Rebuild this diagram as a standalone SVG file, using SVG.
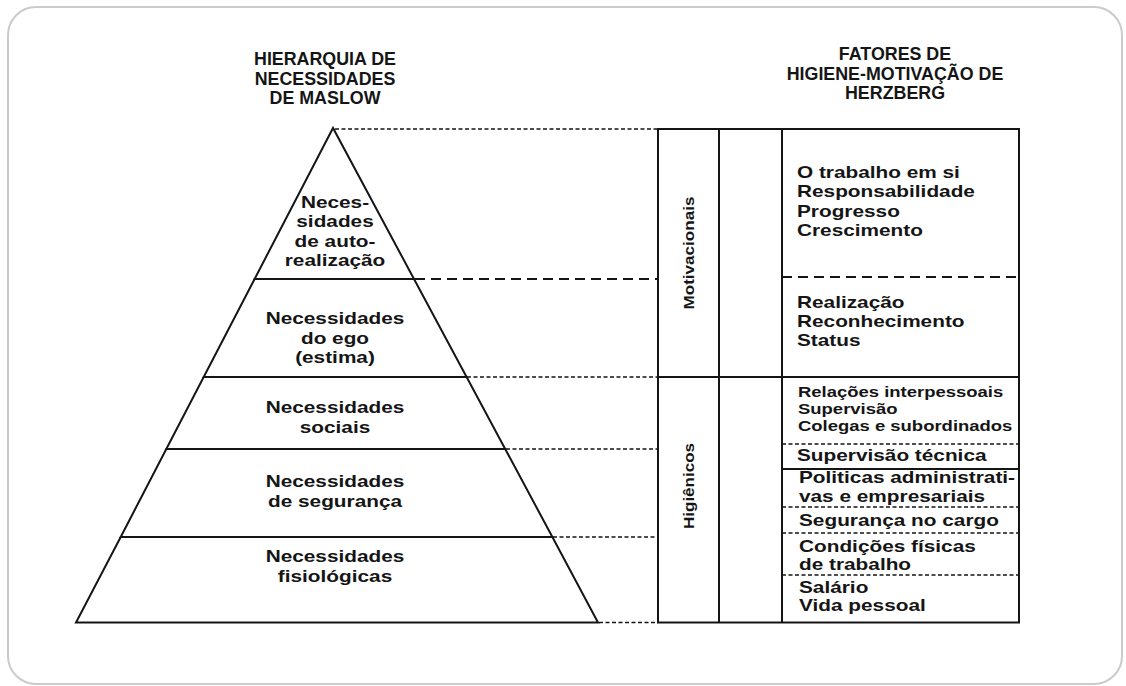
<svg xmlns="http://www.w3.org/2000/svg" width="1126" height="686" viewBox="0 0 1126 686">
<style>
.t{font-family:"Liberation Sans",Arial,Helvetica,sans-serif;font-weight:bold;fill:#151515}
.f16{font-size:16px}
.f14{font-size:14px}
.f15{font-size:15px}
.ttl{font-size:17.5px}
.shape{fill:#fff;stroke:#151515;stroke-width:2;stroke-linejoin:miter}
.ln{stroke:#151515;stroke-width:2;fill:none}
.ds{stroke:#151515;stroke-width:1.6;stroke-dasharray:4 2.5;fill:none}
.dl{stroke:#151515;stroke-width:1.8;stroke-dasharray:10 6;fill:none}
</style>
<rect x="0" y="0" width="1126" height="686" fill="#fff"/>
<rect x="8" y="7" width="1114" height="677" rx="28" ry="28" fill="#fff" stroke="#cbcbcb" stroke-width="2"/>

<g id="title-maslow" transform="translate(325,0)">
<text class="t ttl" text-anchor="middle" transform="scale(1.02,1)"><tspan x="0" y="65.5">HIERARQUIA DE</tspan><tspan x="0" y="85">NECESSIDADES</tspan><tspan x="0" y="104.5">DE MASLOW</tspan></text>
</g>
<g id="title-herzberg" transform="translate(895,0)">
<text class="t ttl" text-anchor="middle" transform="scale(1.02,1)"><tspan x="0" y="60.5">FATORES DE</tspan><tspan x="0" y="80">HIGIENE-MOTIVAÇÃO DE</tspan><tspan x="0" y="99.5">HERZBERG</tspan></text>
</g>

<g id="level-autorealizacao">
<polygon class="shape" points="333,128 254.6,279 414,279"/>
<text class="t f16" text-anchor="middle" transform="translate(335,0) scale(1.3,1)"><tspan x="0" y="208">Neces-</tspan><tspan x="0" y="227">sidades</tspan><tspan x="0" y="247">de auto-</tspan><tspan x="0" y="266">realização</tspan></text>
</g>
<g id="level-ego">
<polygon class="shape" points="254.6,279 414,279 466.6,377 203.7,377"/>
<text class="t f16" text-anchor="middle" transform="translate(335,0) scale(1.3,1)"><tspan x="0" y="324">Necessidades</tspan><tspan x="0" y="344">do ego</tspan><tspan x="0" y="363">(estima)</tspan></text>
</g>
<g id="level-sociais">
<polygon class="shape" points="203.7,377 466.6,377 505.2,449 166.3,449"/>
<text class="t f16" text-anchor="middle" transform="translate(335,0) scale(1.3,1)"><tspan x="0" y="413">Necessidades</tspan><tspan x="0" y="433">sociais</tspan></text>
</g>
<g id="level-seguranca">
<polygon class="shape" points="166.3,449 505.2,449 552.4,537 120.7,537"/>
<text class="t f16" text-anchor="middle" transform="translate(335,0) scale(1.3,1)"><tspan x="0" y="487">Necessidades</tspan><tspan x="0" y="507">de segurança</tspan></text>
</g>
<g id="level-fisiologicas">
<polygon class="shape" points="120.7,537 552.4,537 598,622.5 76,622.5"/>
<text class="t f16" text-anchor="middle" transform="translate(335,0) scale(1.3,1)"><tspan x="0" y="562">Necessidades</tspan><tspan x="0" y="582">fisiológicas</tspan></text>
</g>

<g id="connectors">
<line class="ds" x1="335" y1="129" x2="658" y2="129"/>
<line class="dl" x1="415" y1="279" x2="658" y2="279"/>
<line class="ds" x1="467" y1="377" x2="658" y2="377"/>
<line class="ds" x1="506" y1="449" x2="658" y2="449"/>
<line class="ds" x1="553" y1="537" x2="658" y2="537"/>
<line class="ds" x1="599" y1="622.5" x2="658" y2="622.5"/>
</g>

<g id="table-frame">
<rect class="ln" x="658" y="129" width="361" height="493.5"/>
<line class="ln" x1="719" y1="129" x2="719" y2="622.5"/>
<line class="ln" x1="782" y1="129" x2="782" y2="622.5"/>
<line class="ln" x1="658" y1="377" x2="1019" y2="377"/>
<line class="dl" x1="782" y1="277" x2="1019" y2="277"/>
<line class="ds" x1="782" y1="444" x2="1019" y2="444"/>
<line class="ln" x1="782" y1="469" x2="1019" y2="469"/>
<line class="ds" x1="782" y1="507" x2="1019" y2="507"/>
<line class="ds" x1="782" y1="533" x2="1019" y2="533"/>
<line class="ds" x1="782" y1="575" x2="1019" y2="575"/>
</g>

<g id="cat-motivacionais">
<text class="t f15" text-anchor="middle" textLength="113" lengthAdjust="spacingAndGlyphs" transform="translate(694,253) rotate(-90)">Motivacionais</text>
</g>
<g id="cat-higienicos">
<text class="t f15" text-anchor="middle" textLength="86" lengthAdjust="spacingAndGlyphs" transform="translate(694,486) rotate(-90)">Higiênicos</text>
</g>

<g id="factor-trabalho">
<text class="t f16" transform="translate(797,0) scale(1.3,1)"><tspan x="0" y="178.5">O trabalho em si</tspan><tspan x="0" y="197.5">Responsabilidade</tspan><tspan x="0" y="217">Progresso</tspan><tspan x="0" y="236">Crescimento</tspan></text>
</g>
<g id="factor-realizacao">
<text class="t f16" transform="translate(797,0) scale(1.3,1)"><tspan x="0" y="308.5">Realização</tspan><tspan x="0" y="327.5">Reconhecimento</tspan><tspan x="0" y="346.5">Status</tspan></text>
</g>
<g id="factor-relacoes">
<text class="t f14" transform="translate(798,0) scale(1.32,1)"><tspan x="0" y="397">Relações interpessoais</tspan><tspan x="0" y="414">Supervisão</tspan><tspan x="0" y="431.5">Colegas e subordinados</tspan></text>
</g>
<g id="factor-supervisao">
<text class="t f16" transform="translate(797,0) scale(1.3,1)"><tspan x="0" y="461.5">Supervisão técnica</tspan></text>
</g>
<g id="factor-politicas">
<text class="t f16" transform="translate(799,0) scale(1.3,1)"><tspan x="0" y="483">Politicas administrati-</tspan><tspan x="0" y="502">vas e empresariais</tspan></text>
</g>
<g id="factor-seguranca">
<text class="t f16" transform="translate(799,0) scale(1.3,1)"><tspan x="0" y="526">Segurança no cargo</tspan></text>
</g>
<g id="factor-condicoes">
<text class="t f16" transform="translate(799,0) scale(1.3,1)"><tspan x="0" y="552">Condições físicas</tspan><tspan x="0" y="570.5">de trabalho</tspan></text>
</g>
<g id="factor-salario">
<text class="t f16" transform="translate(799,0) scale(1.3,1)"><tspan x="0" y="593">Salário</tspan><tspan x="0" y="611">Vida pessoal</tspan></text>
</g>
</svg>
